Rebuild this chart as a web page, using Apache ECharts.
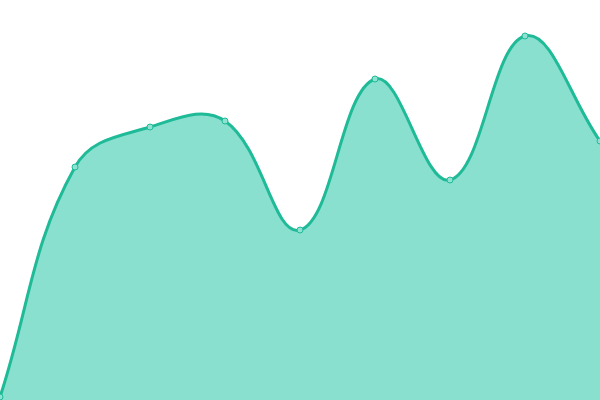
<!DOCTYPE html>
<html><head><meta charset="utf-8">
<script src="https://cdn.jsdelivr.net/npm/echarts@6/dist/echarts.min.js"></script>
<style>html,body{margin:0;padding:0;background:#fff}#c{width:600px;height:400px}</style>
</head><body><div id="c"></div>
<script>
const categories = ['1','2','3','4','5','6','7','8','9'];
const values = [3, 233, 273, 279, 170, 321, 220, 364, 259];
const tension = 0.4;
const lineColor = '#1fba97';
const fillColor = '#89e0cf';

function renderCurve(params, api) {
  if (params.dataIndex !== 0) return null;
  const pts = values.map((v, i) => api.coord([i, v]));
  const cs = params.coordSys;
  const clampX = x => Math.max(cs.x, Math.min(cs.x + cs.width, x));
  const clampY = y => Math.max(cs.y, Math.min(cs.y + cs.height, y));
  const cps = pts.map((p, i) => {
    const prev = pts[i - 1] || p, next = pts[i + 1] || p;
    const d01 = Math.hypot(p[0] - prev[0], p[1] - prev[1]);
    const d12 = Math.hypot(next[0] - p[0], next[1] - p[1]);
    const sum = d01 + d12 || 1;
    const fa = tension * d01 / sum, fb = tension * d12 / sum;
    return {
      before: [clampX(p[0] - fa * (next[0] - prev[0])), clampY(p[1] - fa * (next[1] - prev[1]))],
      after: [clampX(p[0] + fb * (next[0] - prev[0])), clampY(p[1] + fb * (next[1] - prev[1]))]
    };
  });
  let d = 'M' + pts[0][0] + ' ' + pts[0][1];
  for (let i = 1; i < pts.length; i++) {
    const a = cps[i - 1].after, b = cps[i].before, p = pts[i];
    d += ' C' + a[0] + ' ' + a[1] + ' ' + b[0] + ' ' + b[1] + ' ' + p[0] + ' ' + p[1];
  }
  const base = api.coord([0, 0])[1];
  const area = d + ' L' + pts[pts.length - 1][0] + ' ' + base + ' L' + pts[0][0] + ' ' + base + ' Z';
  return {
    type: 'group',
    children: [
      {type: 'path', shape: {pathData: area}, style: {fill: fillColor, stroke: null}},
      {type: 'path', shape: {pathData: d}, style: {fill: null, stroke: lineColor, lineWidth: 3}}
    ]
  };
}

const chart = echarts.init(document.getElementById('c'));
chart.setOption({
  animation: false,
  grid: {left: 0, right: 0, top: 0, bottom: 0},
  xAxis: {type: 'category', data: categories, boundaryGap: false, show: false},
  yAxis: {type: 'value', min: 0, max: 400, show: false},
  series: [{
    type: 'custom',
    data: values,
    renderItem: renderCurve,
    clip: true,
    z: 1
  }, {
    type: 'scatter',
    data: values,
    symbol: 'circle',
    symbolSize: 6,
    itemStyle: {color: '#8fe2d2', borderColor: lineColor, borderWidth: 1, opacity: 1},
    z: 3
  }]
});
</script></body></html>
